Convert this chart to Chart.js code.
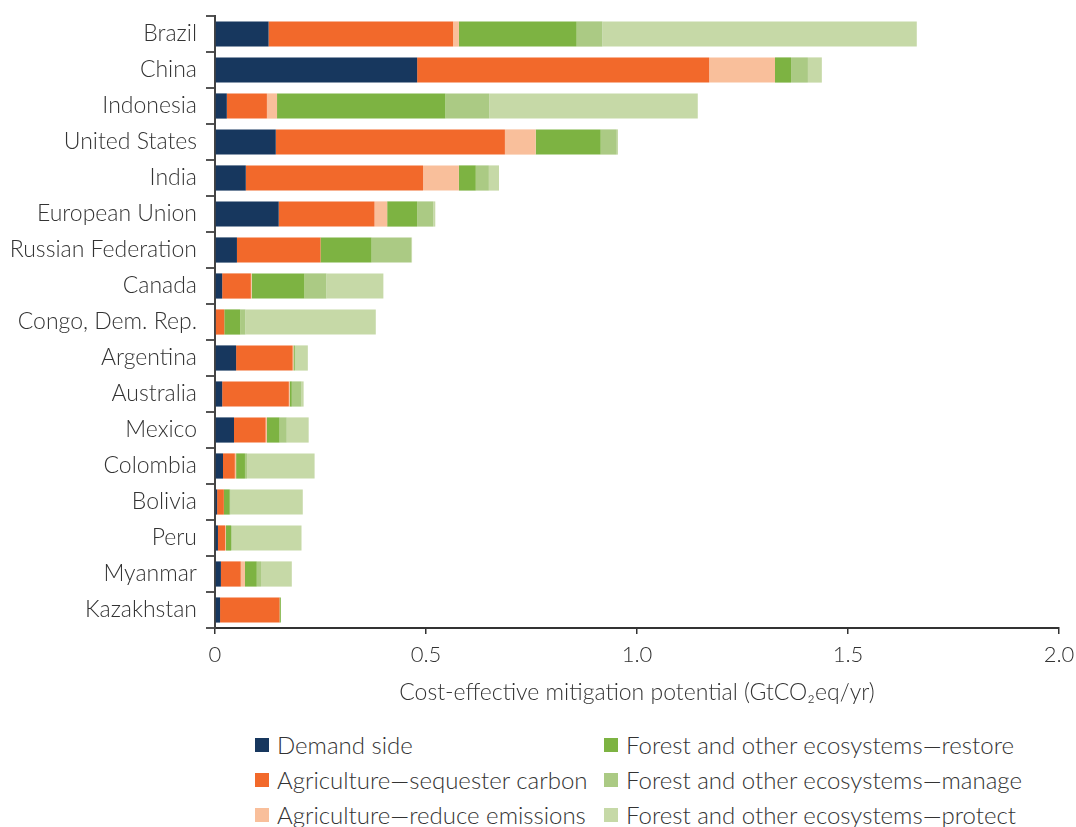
<!DOCTYPE html>
<html>
<head>
<meta charset="utf-8">
<title>Cost-effective mitigation potential</title>
<script src="https://cdn.jsdelivr.net/npm/chart.js@4.4.0/dist/chart.umd.min.js"></script>
<style>
  body { margin: 0; background: #fff; font-family: Lato, "Open Sans", sans-serif; }
  #wrap { position: relative; width: 1076px; height: 827px; overflow: hidden; }
  #chart { position: absolute; left: 0; top: 0; }
  #legend {
    position: absolute; left: 255px; top: 727px;
    display: grid; grid-template-columns: 349px auto; grid-template-rows: repeat(3, 35px);
    grid-auto-flow: column; font-size: 24px; font-weight: 300; color: #333;
  }
  .item { display: flex; align-items: center; white-space: nowrap; }
  .box { width: 14px; height: 14px; margin-right: 8px; flex: none; }
</style>
</head>
<body>
<div id="wrap">
  <canvas id="chart" width="1076" height="720"></canvas>
  <div id="legend"></div>
</div>
<script>
// countries, top to bottom
const countries = ['Brazil', 'China', 'Indonesia', 'United States', 'India', 'European Union',
  'Russian Federation', 'Canada', 'Congo, Dem. Rep.', 'Argentina', 'Australia', 'Mexico',
  'Colombia', 'Bolivia', 'Peru', 'Myanmar', 'Kazakhstan'];

// GtCO2eq/yr per measure
const demandSide    = [0.127, 0.479, 0.028, 0.144, 0.073, 0.151, 0.052, 0.017, 0.002, 0.050, 0.017, 0.045, 0.019, 0.005, 0.007, 0.014, 0.012];
const agriSequester = [0.437, 0.692, 0.095, 0.543, 0.420, 0.227, 0.198, 0.068, 0.020, 0.134, 0.158, 0.075, 0.028, 0.016, 0.017, 0.047, 0.141];
const agriReduce    = [0.014, 0.156, 0.024, 0.073, 0.085, 0.030, 0.000, 0.002, 0.000, 0.002, 0.002, 0.003, 0.003, 0.000, 0.002, 0.010, 0.000];
const forestRestore = [0.279, 0.038, 0.399, 0.154, 0.040, 0.071, 0.121, 0.125, 0.038, 0.003, 0.005, 0.030, 0.021, 0.014, 0.012, 0.028, 0.003];
const forestManage  = [0.061, 0.040, 0.104, 0.038, 0.031, 0.038, 0.094, 0.052, 0.012, 0.002, 0.023, 0.017, 0.005, 0.002, 0.002, 0.010, 0.000];
const forestProtect = [0.745, 0.033, 0.494, 0.003, 0.024, 0.005, 0.002, 0.135, 0.309, 0.029, 0.005, 0.052, 0.160, 0.171, 0.165, 0.073, 0.000];

const xTicks = [0, 0.5, 1.0, 1.5, 2.0];

const series = [
  { label: 'Demand side', data: demandSide, color: '#17375e' },
  { label: 'Agriculture\u2014sequester carbon', data: agriSequester, color: '#f2692b' },
  { label: 'Agriculture\u2014reduce emissions', data: agriReduce, color: '#f9bf9b' },
  { label: 'Forest and other ecosystems\u2014restore', data: forestRestore, color: '#7db342' },
  { label: 'Forest and other ecosystems\u2014manage', data: forestManage, color: '#abca84' },
  { label: 'Forest and other ecosystems\u2014protect', data: forestProtect, color: '#c6d9a7' }
];

const family = 'Lato, "Open Sans", sans-serif';

new Chart(document.getElementById('chart'), {
  type: 'bar',
  data: {
    labels: countries,
    datasets: series.map(s => ({
      label: s.label,
      data: s.data,
      backgroundColor: s.color,
      borderWidth: 0,
      categoryPercentage: 1,
      barPercentage: 0.7
    }))
  },
  options: {
    indexAxis: 'y',
    responsive: false,
    animation: false,
    layout: { padding: { top: 16, right: 17, bottom: 0, left: 0 } },
    plugins: { legend: { display: false }, tooltip: { enabled: false } },
    scales: {
      x: {
        stacked: true,
        min: 0,
        max: 2,
        afterBuildTicks: scale => { scale.ticks = xTicks.map(v => ({ value: v })); },
        afterFit: scale => { scale.height = 92; scale.paddingLeft = 0; scale.paddingRight = 0; },
        ticks: {
          font: { family: family, size: 22, weight: 300 }, color: '#333', padding: 8,
          callback: v => v === 0 ? '0' : v.toFixed(1)
        },
        grid: { drawOnChartArea: false, tickLength: 6, color: '#333', lineWidth: 1.5 },
        border: { color: '#333', width: 2 },
        title: {
          display: true,
          text: 'Cost-effective mitigation potential (GtCO\u2082eq/yr)',
          font: { family: family, size: 23, weight: 300 }, color: '#333',
          padding: { top: 6, bottom: 14 }
        }
      },
      y: {
        stacked: true,
        afterFit: scale => { scale.width = 215; scale.paddingTop = 0; scale.paddingBottom = 0; },
        ticks: { font: { family: family, size: 23, weight: 300 }, color: '#333', padding: 9 },
        grid: { drawOnChartArea: false, tickLength: 9, color: '#555', lineWidth: 2 },
        border: { color: '#444', width: 2 }
      }
    }
  }
});

// two-column legend under the chart
const legend = document.getElementById('legend');
series.forEach(s => {
  const item = document.createElement('div');
  item.className = 'item';
  item.innerHTML = '<span class="box" style="background:' + s.color + '"></span>' + s.label;
  legend.appendChild(item);
});
</script>
</body>
</html>
